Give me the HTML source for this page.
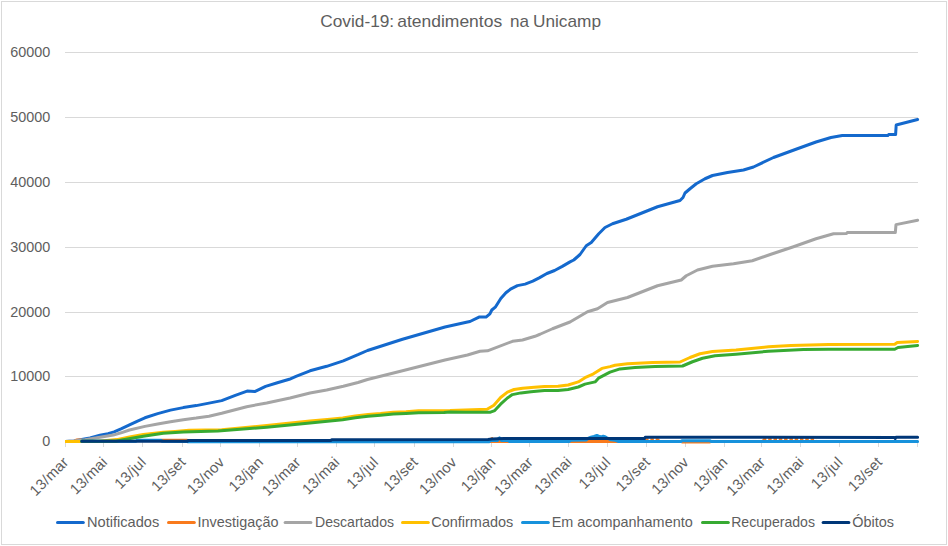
<!DOCTYPE html>
<html><head><meta charset="utf-8"><title>Covid-19: atendimentos na Unicamp</title>
<style>
html,body{margin:0;padding:0;background:#fff;}
body{width:948px;height:546px;overflow:hidden;position:relative;font-family:"Liberation Sans",sans-serif;}
</style></head><body>
<svg width="948" height="546" viewBox="0 0 948 546" style="display:block;position:absolute;left:0;top:0">
<rect x="0" y="0" width="948" height="546" fill="#fff"/>
<rect x="1.5" y="1.5" width="945" height="543" fill="none" stroke="#D9D9D9" stroke-width="1" shape-rendering="crispEdges"/>
<rect x="65" y="52" width="853" height="1" fill="#D9D9D9" shape-rendering="crispEdges"/>
<rect x="65" y="117" width="853" height="1" fill="#D9D9D9" shape-rendering="crispEdges"/>
<rect x="65" y="182" width="853" height="1" fill="#D9D9D9" shape-rendering="crispEdges"/>
<rect x="65" y="247" width="853" height="1" fill="#D9D9D9" shape-rendering="crispEdges"/>
<rect x="65" y="312" width="853" height="1" fill="#D9D9D9" shape-rendering="crispEdges"/>
<rect x="65" y="376" width="853" height="1" fill="#D9D9D9" shape-rendering="crispEdges"/>
<rect x="65" y="441" width="853" height="1" fill="#D9D9D9" shape-rendering="crispEdges"/>
<rect x="65" y="441" width="1" height="6" fill="#D9D9D9" shape-rendering="crispEdges"/>
<rect x="103" y="441" width="1" height="6" fill="#D9D9D9" shape-rendering="crispEdges"/>
<rect x="142" y="441" width="1" height="6" fill="#D9D9D9" shape-rendering="crispEdges"/>
<rect x="182" y="441" width="1" height="6" fill="#D9D9D9" shape-rendering="crispEdges"/>
<rect x="220" y="441" width="1" height="6" fill="#D9D9D9" shape-rendering="crispEdges"/>
<rect x="259" y="441" width="1" height="6" fill="#D9D9D9" shape-rendering="crispEdges"/>
<rect x="297" y="441" width="1" height="6" fill="#D9D9D9" shape-rendering="crispEdges"/>
<rect x="336" y="441" width="1" height="6" fill="#D9D9D9" shape-rendering="crispEdges"/>
<rect x="374" y="441" width="1" height="6" fill="#D9D9D9" shape-rendering="crispEdges"/>
<rect x="414" y="441" width="1" height="6" fill="#D9D9D9" shape-rendering="crispEdges"/>
<rect x="453" y="441" width="1" height="6" fill="#D9D9D9" shape-rendering="crispEdges"/>
<rect x="491" y="441" width="1" height="6" fill="#D9D9D9" shape-rendering="crispEdges"/>
<rect x="529" y="441" width="1" height="6" fill="#D9D9D9" shape-rendering="crispEdges"/>
<rect x="568" y="441" width="1" height="6" fill="#D9D9D9" shape-rendering="crispEdges"/>
<rect x="607" y="441" width="1" height="6" fill="#D9D9D9" shape-rendering="crispEdges"/>
<rect x="646" y="441" width="1" height="6" fill="#D9D9D9" shape-rendering="crispEdges"/>
<rect x="685" y="441" width="1" height="6" fill="#D9D9D9" shape-rendering="crispEdges"/>
<rect x="724" y="441" width="1" height="6" fill="#D9D9D9" shape-rendering="crispEdges"/>
<rect x="761" y="441" width="1" height="6" fill="#D9D9D9" shape-rendering="crispEdges"/>
<rect x="800" y="441" width="1" height="6" fill="#D9D9D9" shape-rendering="crispEdges"/>
<rect x="839" y="441" width="1" height="6" fill="#D9D9D9" shape-rendering="crispEdges"/>
<rect x="878" y="441" width="1" height="6" fill="#D9D9D9" shape-rendering="crispEdges"/>
<rect x="917" y="441" width="1" height="6" fill="#D9D9D9" shape-rendering="crispEdges"/>
<clipPath id="pc"><rect x="64.9" y="40" width="860" height="410"/></clipPath><g clip-path="url(#pc)">
<polyline points="65.20,441.40 74.00,441.00 80.30,439.70 90.00,438.00 100.00,435.30 108.00,433.60 114.10,431.90 121.00,428.90 129.50,424.90 137.00,421.30 144.90,417.80 157.70,413.60 170.50,410.10 183.30,407.60 196.20,405.60 209.00,403.10 221.70,400.60 235.30,395.30 247.10,391.10 254.70,391.60 265.60,386.40 277.40,382.70 289.30,379.30 296.00,376.40 310.00,370.80 326.70,366.30 343.30,360.80 358.00,354.70 367.50,350.50 402.50,339.30 445.00,327.00 467.50,322.00 470.00,321.50 479.00,317.10 486.00,317.10 489.90,313.80 491.80,310.00 495.60,306.80 500.80,298.50 505.90,292.70 511.00,288.80 517.40,285.60 525.10,284.10 532.80,281.20 539.20,277.90 546.90,273.50 554.60,270.50 562.30,266.40 570.00,261.90 573.75,260.00 580.00,254.50 586.25,245.75 591.25,242.50 598.75,233.75 605.00,227.50 612.50,223.75 626.25,219.25 657.50,206.75 680.00,200.50 683.00,197.50 685.00,193.00 690.00,188.75 696.25,183.75 705.00,178.75 712.50,175.50 727.50,172.50 743.50,170.00 753.50,167.00 773.50,157.50 796.00,149.25 816.00,142.00 831.00,137.50 842.25,135.50 887.80,135.60 888.60,134.60 895.60,134.60 896.20,125.00 917.60,119.50" fill="none" stroke="#1469CD" stroke-width="3" stroke-linejoin="round" stroke-linecap="round"/>
<polyline points="74.50,441.30 76.50,440.00 81.00,440.00 82.50,441.30" fill="none" stroke="#F97A1C" stroke-width="3" stroke-linejoin="round" stroke-linecap="butt"/>
<polyline points="160.00,441.30 161.50,440.20 187.00,440.20 188.50,441.30" fill="none" stroke="#F97A1C" stroke-width="3" stroke-linejoin="round" stroke-linecap="butt"/>
<polyline points="488.50,441.60 490.80,441.60 491.40,438.80 492.00,438.60 492.60,441.60 510.50,441.60" fill="none" stroke="#F97A1C" stroke-width="3" stroke-linejoin="round" stroke-linecap="butt"/>
<polyline points="568.50,441.60 618.50,441.60" fill="none" stroke="#F97A1C" stroke-width="3" stroke-linejoin="round" stroke-linecap="butt"/>
<polyline points="645.50,440.60 646.00,439.80 658.00,439.80 658.50,440.60" fill="none" stroke="#F97A1C" stroke-width="3" stroke-linejoin="round" stroke-linecap="butt" stroke-dasharray="3.5 1.8"/>
<polyline points="681.50,442.00 710.50,442.00" fill="none" stroke="#F97A1C" stroke-width="3" stroke-linejoin="round" stroke-linecap="butt"/>
<polyline points="763.50,440.60 764.00,439.60 815.00,439.60 815.50,440.60" fill="none" stroke="#F97A1C" stroke-width="3" stroke-linejoin="round" stroke-linecap="butt" stroke-dasharray="3.5 1.8"/>
<polyline points="65.20,441.40 74.00,441.00 85.00,439.70 100.00,437.30 113.30,435.10 121.00,432.80 129.50,430.00 144.90,426.40 157.70,424.00 170.50,421.70 183.30,419.70 196.20,418.10 209.00,416.20 221.70,413.30 246.70,406.70 266.70,403.00 290.00,398.00 310.00,393.00 326.70,390.00 343.30,386.30 358.00,382.50 367.50,379.50 402.50,370.80 445.00,360.00 467.50,355.00 480.00,351.30 487.50,350.80 512.50,341.30 522.50,340.00 535.00,336.30 540.00,334.25 552.50,328.75 570.00,322.00 587.50,311.75 597.50,308.75 607.50,302.50 627.50,297.50 657.50,285.75 681.25,280.00 686.25,275.75 697.50,270.00 712.50,266.25 733.50,263.75 752.25,260.75 771.00,254.25 793.50,246.75 816.00,238.75 833.50,233.80 846.50,233.50 847.30,232.60 895.30,232.60 896.00,224.60 917.60,220.30" fill="none" stroke="#A5A5A5" stroke-width="3" stroke-linejoin="round" stroke-linecap="round"/>
<polyline points="65.20,441.40 97.00,441.40 116.70,439.60 129.50,437.00 143.30,434.50 163.30,432.20 175.00,431.40 189.00,430.30 221.70,429.80 266.70,425.50 310.00,421.00 330.00,419.30 342.70,418.00 355.30,415.90 368.00,414.50 380.60,413.60 393.30,412.30 406.00,411.70 418.60,410.70 450.00,410.40 465.00,409.90 487.10,409.30 493.90,405.20 500.60,397.50 507.40,392.10 514.10,389.50 522.60,388.20 534.40,387.30 544.50,386.50 558.00,386.20 568.10,385.00 578.30,381.90 585.00,377.70 593.50,373.80 601.90,368.40 610.00,366.60 615.00,365.30 627.50,363.75 652.50,362.50 680.00,362.00 690.00,357.50 700.00,353.75 712.50,351.50 736.00,350.00 768.50,346.75 791.00,345.50 828.50,344.50 894.75,344.25 897.25,342.50 917.60,341.50" fill="none" stroke="#FFC000" stroke-width="3" stroke-linejoin="round" stroke-linecap="round"/>
<polyline points="81.80,441.30 136.00,441.30 137.00,440.20 161.00,440.20 162.00,441.30 187.00,441.40 188.00,441.80 489.00,441.70 490.50,440.60 497.50,440.40 498.50,438.60 499.50,437.80 500.50,438.60 501.50,440.40 508.00,440.60 510.00,441.60 569.00,441.60 571.00,440.20 586.00,440.00 588.50,438.20 591.00,437.20 594.00,436.40 596.90,435.40 599.50,436.60 601.50,436.80 603.20,436.20 605.50,437.00 607.50,438.20 611.00,439.80 615.00,440.20 618.00,441.40 681.00,441.40 682.00,440.70 710.00,440.70 711.00,441.40 917.60,441.40" fill="none" stroke="#1792DC" stroke-width="3" stroke-linejoin="round" stroke-linecap="round"/>
<polyline points="81.80,441.30 116.00,441.30 121.70,440.00 143.30,436.20 163.30,433.30 183.30,432.00 218.00,431.00 266.70,427.20 310.00,422.90 330.00,421.10 342.70,419.70 355.30,417.80 368.00,416.30 380.60,415.30 393.30,414.10 406.00,413.50 418.60,412.70 444.00,412.60 450.00,412.10 465.00,412.20 490.50,412.20 494.70,410.60 500.60,404.20 507.40,398.00 512.40,394.60 520.90,392.90 531.00,391.70 544.50,390.40 558.00,390.40 568.10,389.50 578.30,387.00 585.00,384.10 595.10,381.90 598.50,378.20 610.00,372.20 620.00,368.90 635.00,367.50 655.00,366.50 682.50,366.00 692.50,361.75 702.50,358.25 715.00,355.75 736.00,354.25 768.50,351.25 803.50,349.50 828.50,349.25 894.75,349.25 898.00,347.50 917.60,345.50" fill="none" stroke="#37AA32" stroke-width="3" stroke-linejoin="round" stroke-linecap="round"/>
<polyline points="81.80,441.30 187.30,441.30 188.00,440.40 331.00,440.40 331.60,439.80 488.00,439.60 492.00,439.10 498.00,438.80 504.00,438.60 644.60,438.50 645.20,437.30 894.50,437.40 895.30,438.50 896.00,437.30 917.60,437.30" fill="none" stroke="#003778" stroke-width="3" stroke-linejoin="round" stroke-linecap="round"/>
</g>
<text x="320.2" y="26.8" font-family="Liberation Sans, sans-serif" font-size="17" textLength="74.0" lengthAdjust="spacingAndGlyphs" fill="#5e5e5e">Covid-19:</text>
<text x="397.2" y="26.8" font-family="Liberation Sans, sans-serif" font-size="17" textLength="105.0" lengthAdjust="spacingAndGlyphs" fill="#5e5e5e">atendimentos</text>
<text x="510.0" y="26.8" font-family="Liberation Sans, sans-serif" font-size="17" textLength="19.0" lengthAdjust="spacingAndGlyphs" fill="#5e5e5e">na</text>
<text x="533.0" y="26.8" font-family="Liberation Sans, sans-serif" font-size="17" textLength="68.0" lengthAdjust="spacingAndGlyphs" fill="#5e5e5e">Unicamp</text>
<text x="50.3" y="56.9" text-anchor="end" font-family="Liberation Sans, sans-serif" font-size="14.4" fill="#5e5e5e">60000</text>
<text x="50.3" y="121.9" text-anchor="end" font-family="Liberation Sans, sans-serif" font-size="14.4" fill="#5e5e5e">50000</text>
<text x="50.3" y="186.9" text-anchor="end" font-family="Liberation Sans, sans-serif" font-size="14.4" fill="#5e5e5e">40000</text>
<text x="50.3" y="251.9" text-anchor="end" font-family="Liberation Sans, sans-serif" font-size="14.4" fill="#5e5e5e">30000</text>
<text x="50.3" y="316.9" text-anchor="end" font-family="Liberation Sans, sans-serif" font-size="14.4" fill="#5e5e5e">20000</text>
<text x="50.3" y="380.9" text-anchor="end" font-family="Liberation Sans, sans-serif" font-size="14.4" fill="#5e5e5e">10000</text>
<text x="50.3" y="445.9" text-anchor="end" font-family="Liberation Sans, sans-serif" font-size="14.4" fill="#5e5e5e">0</text>
<text transform="translate(69.3,463.2) rotate(-45)" text-anchor="end" font-family="Liberation Sans, sans-serif" font-size="14.8" textLength="47.4" lengthAdjust="spacing" fill="#5e5e5e">13/mar</text>
<text transform="translate(108.1,463.2) rotate(-45)" text-anchor="end" font-family="Liberation Sans, sans-serif" font-size="14.8" textLength="45.5" lengthAdjust="spacing" fill="#5e5e5e">13/mai</text>
<text transform="translate(146.9,463.2) rotate(-45)" text-anchor="end" font-family="Liberation Sans, sans-serif" font-size="14.8" textLength="37.5" lengthAdjust="spacing" fill="#5e5e5e">13/jul</text>
<text transform="translate(186.4,463.2) rotate(-45)" text-anchor="end" font-family="Liberation Sans, sans-serif" font-size="14.8" textLength="41.1" lengthAdjust="spacing" fill="#5e5e5e">13/set</text>
<text transform="translate(225.2,463.2) rotate(-45)" text-anchor="end" font-family="Liberation Sans, sans-serif" font-size="14.8" textLength="45.5" lengthAdjust="spacing" fill="#5e5e5e">13/nov</text>
<text transform="translate(264.0,463.2) rotate(-45)" text-anchor="end" font-family="Liberation Sans, sans-serif" font-size="14.8" textLength="41.4" lengthAdjust="spacing" fill="#5e5e5e">13/jan</text>
<text transform="translate(301.5,463.2) rotate(-45)" text-anchor="end" font-family="Liberation Sans, sans-serif" font-size="14.8" textLength="47.4" lengthAdjust="spacing" fill="#5e5e5e">13/mar</text>
<text transform="translate(340.3,463.2) rotate(-45)" text-anchor="end" font-family="Liberation Sans, sans-serif" font-size="14.8" textLength="45.5" lengthAdjust="spacing" fill="#5e5e5e">13/mai</text>
<text transform="translate(379.1,463.2) rotate(-45)" text-anchor="end" font-family="Liberation Sans, sans-serif" font-size="14.8" textLength="37.5" lengthAdjust="spacing" fill="#5e5e5e">13/jul</text>
<text transform="translate(418.6,463.2) rotate(-45)" text-anchor="end" font-family="Liberation Sans, sans-serif" font-size="14.8" textLength="41.1" lengthAdjust="spacing" fill="#5e5e5e">13/set</text>
<text transform="translate(457.4,463.2) rotate(-45)" text-anchor="end" font-family="Liberation Sans, sans-serif" font-size="14.8" textLength="45.5" lengthAdjust="spacing" fill="#5e5e5e">13/nov</text>
<text transform="translate(496.2,463.2) rotate(-45)" text-anchor="end" font-family="Liberation Sans, sans-serif" font-size="14.8" textLength="41.4" lengthAdjust="spacing" fill="#5e5e5e">13/jan</text>
<text transform="translate(533.7,463.2) rotate(-45)" text-anchor="end" font-family="Liberation Sans, sans-serif" font-size="14.8" textLength="47.4" lengthAdjust="spacing" fill="#5e5e5e">13/mar</text>
<text transform="translate(572.5,463.2) rotate(-45)" text-anchor="end" font-family="Liberation Sans, sans-serif" font-size="14.8" textLength="45.5" lengthAdjust="spacing" fill="#5e5e5e">13/mai</text>
<text transform="translate(611.3,463.2) rotate(-45)" text-anchor="end" font-family="Liberation Sans, sans-serif" font-size="14.8" textLength="37.5" lengthAdjust="spacing" fill="#5e5e5e">13/jul</text>
<text transform="translate(650.8,463.2) rotate(-45)" text-anchor="end" font-family="Liberation Sans, sans-serif" font-size="14.8" textLength="41.1" lengthAdjust="spacing" fill="#5e5e5e">13/set</text>
<text transform="translate(689.6,463.2) rotate(-45)" text-anchor="end" font-family="Liberation Sans, sans-serif" font-size="14.8" textLength="45.5" lengthAdjust="spacing" fill="#5e5e5e">13/nov</text>
<text transform="translate(728.4,463.2) rotate(-45)" text-anchor="end" font-family="Liberation Sans, sans-serif" font-size="14.8" textLength="41.4" lengthAdjust="spacing" fill="#5e5e5e">13/jan</text>
<text transform="translate(765.9,463.2) rotate(-45)" text-anchor="end" font-family="Liberation Sans, sans-serif" font-size="14.8" textLength="47.4" lengthAdjust="spacing" fill="#5e5e5e">13/mar</text>
<text transform="translate(804.7,463.2) rotate(-45)" text-anchor="end" font-family="Liberation Sans, sans-serif" font-size="14.8" textLength="45.5" lengthAdjust="spacing" fill="#5e5e5e">13/mai</text>
<text transform="translate(843.5,463.2) rotate(-45)" text-anchor="end" font-family="Liberation Sans, sans-serif" font-size="14.8" textLength="37.5" lengthAdjust="spacing" fill="#5e5e5e">13/jul</text>
<text transform="translate(883.0,463.2) rotate(-45)" text-anchor="end" font-family="Liberation Sans, sans-serif" font-size="14.8" textLength="41.1" lengthAdjust="spacing" fill="#5e5e5e">13/set</text>
<line x1="57.5" y1="522.4" x2="83.30000000000001" y2="522.4" stroke="#1469CD" stroke-width="3" stroke-linecap="round"/>
<text x="87" y="526.9" font-family="Liberation Sans, sans-serif" font-size="14.4" textLength="72.2" lengthAdjust="spacingAndGlyphs" fill="#5e5e5e">Notificados</text>
<line x1="168.5" y1="522.4" x2="194.29999999999998" y2="522.4" stroke="#F97A1C" stroke-width="3" stroke-linecap="round"/>
<text x="197.6" y="526.9" font-family="Liberation Sans, sans-serif" font-size="14.4" textLength="80.8" lengthAdjust="spacingAndGlyphs" fill="#5e5e5e">Investigação</text>
<line x1="285.1" y1="522.4" x2="310.90000000000003" y2="522.4" stroke="#A5A5A5" stroke-width="3" stroke-linecap="round"/>
<text x="315" y="526.9" font-family="Liberation Sans, sans-serif" font-size="14.4" textLength="79" lengthAdjust="spacingAndGlyphs" fill="#5e5e5e">Descartados</text>
<line x1="402.5" y1="522.4" x2="428.3" y2="522.4" stroke="#FFC000" stroke-width="3" stroke-linecap="round"/>
<text x="431.3" y="526.9" font-family="Liberation Sans, sans-serif" font-size="14.4" textLength="82" lengthAdjust="spacingAndGlyphs" fill="#5e5e5e">Confirmados</text>
<line x1="522.5" y1="522.4" x2="548.3000000000001" y2="522.4" stroke="#1792DC" stroke-width="3" stroke-linecap="round"/>
<text x="551.7" y="526.9" font-family="Liberation Sans, sans-serif" font-size="14.4" textLength="141" lengthAdjust="spacingAndGlyphs" fill="#5e5e5e">Em acompanhamento</text>
<line x1="702.5" y1="522.4" x2="728.3000000000001" y2="522.4" stroke="#37AA32" stroke-width="3" stroke-linecap="round"/>
<text x="731.2" y="526.9" font-family="Liberation Sans, sans-serif" font-size="14.4" textLength="83.8" lengthAdjust="spacingAndGlyphs" fill="#5e5e5e">Recuperados</text>
<line x1="823.0999999999999" y1="522.4" x2="848.9" y2="522.4" stroke="#003778" stroke-width="3" stroke-linecap="round"/>
<text x="852.3" y="526.9" font-family="Liberation Sans, sans-serif" font-size="14.4" textLength="41.7" lengthAdjust="spacingAndGlyphs" fill="#5e5e5e">Óbitos</text>
</svg>
</body></html>
